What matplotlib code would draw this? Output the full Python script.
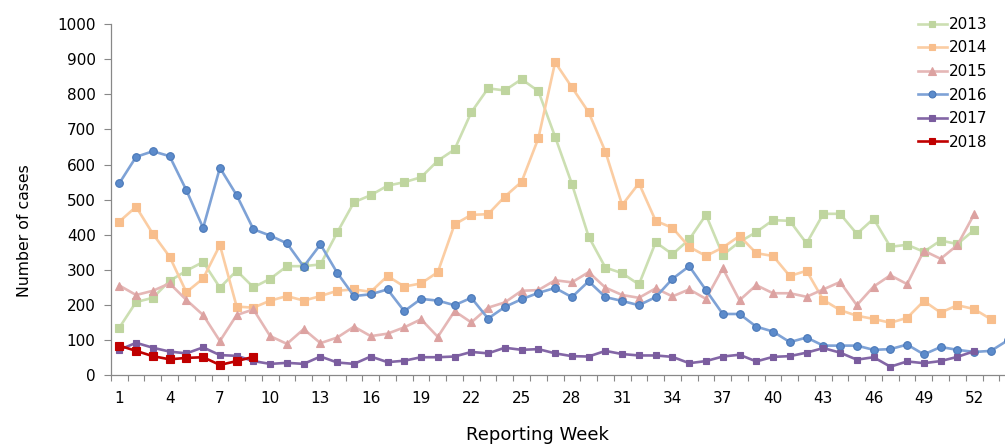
import numpy as np
import matplotlib
matplotlib.use("Agg")
import matplotlib.pyplot as plt

plt.rcParams['font.family'] = ['DejaVu Sans']

weeks_ticks = list(range(1, 53, 3))

cases_2013 = [136, 209, 221, 269, 298, 323, 250, 298, 251, 275, 311, 311, 316, 407, 493,
              513, 540, 550, 564, 611, 643, 749, 817, 811, 843, 809, 679, 545, 395, 307,
              291, 259, 379, 345, 387, 457, 343, 380, 408, 442, 440, 376, 460, 460, 403,
              446, 366, 372, 352, 384, 374, 414]
cases_2014 = [438, 480, 403, 338, 237, 276, 371, 196, 193, 213, 226, 213, 226, 241, 245,
              238, 283, 253, 262, 294, 430, 457, 459, 509, 551, 675, 891, 820, 749, 637,
              485, 547, 440, 420, 366, 340, 364, 397, 348, 340, 283, 298, 215, 186, 170,
              161, 150, 164, 212, 179, 200, 189, 160]
cases_2015 = [256, 229, 241, 262, 215, 172, 98, 172, 188, 112, 90, 132, 92, 108, 139,
              112, 119, 137, 160, 110, 183, 151, 193, 208, 241, 243, 271, 265, 294, 250,
              229, 221, 248, 225, 245, 218, 305, 214, 257, 234, 234, 224, 245, 266, 200,
              253, 285, 260, 355, 332, 371, 459]
cases_2016 = [547, 622, 638, 624, 527, 420, 591, 513, 416, 398, 376, 310, 373, 292, 226,
              231, 245, 183, 218, 213, 200, 221, 162, 195, 217, 235, 249, 223, 268, 223,
              212, 200, 223, 275, 311, 243, 175, 175, 139, 125, 95, 108, 85, 85, 85,
              73, 75, 88, 60, 81, 73, 67, 70, 100]
cases_2017 = [73, 93, 79, 68, 63, 80, 58, 56, 41, 33, 36, 33, 54, 37, 33,
              54, 38, 42, 52, 52, 54, 67, 63, 79, 73, 75, 63, 55, 54, 70,
              61, 57, 57, 53, 35, 41, 54, 59, 40, 53, 55, 65, 78, 65, 45,
              52, 25, 40, 35, 41, 53, 69]
cases_2018 = [85, 70, 55, 46, 50, 52, 30, 41, 53]

series = [
    ("2013", cases_2013, "#CCDFB2", "#BFD59F", "s", 5.5),
    ("2014", cases_2014, "#FBCDA3", "#F8BE8C", "s", 5.5),
    ("2015", cases_2015, "#E5B7B6", "#DCA2A1", "^", 6),
    ("2016", cases_2016, "#7EA2D6", "#5C8BCB", "o", 5.5),
    ("2017", cases_2017, "#8366A6", "#7A5C9E", "s", 4.5),
    ("2018", cases_2018, "#C00000", "#C00000", "s", 5.5),
]

fig = plt.figure(figsize=(10.05, 4.44), dpi=100)
ax = fig.add_axes([0.1104, 0.1543, 0.8896, 0.7916])

for label, vals, lc, mc, mk, ms in series:
    x = np.arange(1, len(vals) + 1)
    ax.plot(x, vals, color=lc, lw=1.9, marker=mk, ms=ms, mfc=mc,
            mec=mc if label != "2016" else "#4A78B8", mew=0.8, label=label)

ax.set_xlim(0.5, 53.84)
ax.set_ylim(0, 1000)
ax.set_yticks(range(0, 1001, 100))
ax.set_xticks(weeks_ticks)
ax.set_xticks(np.arange(0.5, 54, 1), minor=True)
ax.tick_params(axis='x', which='major', length=0, pad=11, labelsize=11)
ax.tick_params(axis='x', which='minor', length=4, width=0.8, color='#888888', direction='out')
ax.tick_params(axis='y', length=5, width=0.8, color='#888888', pad=6, labelsize=11)

for side in ['top', 'right']:
    ax.spines[side].set_visible(False)
for side in ['left', 'bottom']:
    ax.spines[side].set_color('#888888')
    ax.spines[side].set_linewidth(0.9)

ax.set_xlabel("Reporting Week", fontsize=13)
ax.xaxis.set_label_coords(0.477, -0.145)
ax.set_ylabel("Number of cases", fontsize=11.3)
ax.yaxis.set_label_coords(-0.088, 0.411)

fig.legend(loc='upper left', bbox_to_anchor=(0.9134, 0.962), frameon=False,
           fontsize=11, handlelength=1.9, handletextpad=0.15, labelspacing=0.56,
           borderpad=0, borderaxespad=0, markerscale=0.9)

fig.savefig("out.png", dpi=100)
